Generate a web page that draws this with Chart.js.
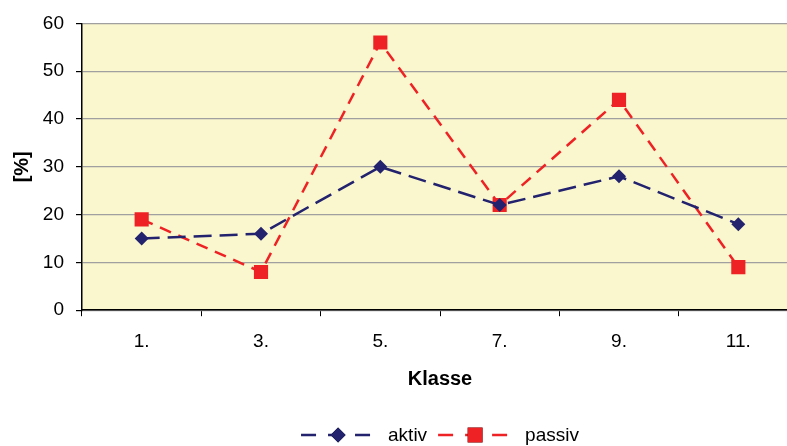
<!DOCTYPE html>
<html>
<head>
<meta charset="utf-8">
<script src="https://cdn.jsdelivr.net/npm/chart.js@4"></script>
<style>
    html, body { margin: 0; padding: 0; background: #ffffff; overflow: hidden; }
    #wrap { width: 787px; height: 446px; overflow: hidden; }
</style>
</head>
<body>
<div id="wrap"><canvas id="chart" width="808" height="446"></canvas></div>
<script>
// chart data
const categories = ['1.', '3.', '5.', '7.', '9.', '11.'];
const aktivValues = [15, 16, 30, 22, 28, 18];
const passivValues = [19, 8, 56, 22, 44, 9];
const yTicks = [0, 10, 20, 30, 40, 50, 60];

const FONT = '"Liberation Sans", Arial, sans-serif';
const NAVY = '#22226e';
const RED = '#ee2224';

// Fill the plot area with the pale yellow background
const plotBackground = {
    id: 'plotBackground',
    beforeDraw(chart) {
        const { ctx, chartArea } = chart;
        ctx.save();
        ctx.fillStyle = '#faf6ce';
        ctx.fillRect(chartArea.left, chartArea.top, chartArea.width, chartArea.height);
        ctx.restore();
    }
};

// Legend in the Excel style: dashed line with the marker in the middle
const lineLegend = {
    id: 'lineLegend',
    afterDraw(chart) {
        const { ctx, chartArea } = chart;
        const symbolWidth = 74;
        const textGap = 13;
        const itemGap = 11;
        const y = 435;
        ctx.save();
        ctx.font = '19px ' + FONT;
        ctx.textBaseline = 'middle';

        const items = chart.data.datasets.map(ds => ({
            ds,
            textWidth: ctx.measureText(ds.label).width
        }));
        const total = items.reduce((s, it) => s + symbolWidth + textGap + it.textWidth, 0)
            + itemGap * (items.length - 1);
        let x = (chartArea.left + chartArea.right) / 2 - total / 2;

        items.forEach(({ ds, textWidth }) => {
            ctx.strokeStyle = ds.borderColor;
            ctx.lineWidth = ds.borderWidth;
            ctx.setLineDash([15, 12]);
            ctx.beginPath();
            ctx.moveTo(x, y);
            ctx.lineTo(x + symbolWidth, y);
            ctx.stroke();
            ctx.setLineDash([]);
            Chart.helpers.drawPoint(ctx, {
                pointStyle: ds.pointStyle,
                radius: ds.pointRadius + 0.5,
                rotation: 0,
                borderWidth: 0
            }, x + symbolWidth / 2, y);
            ctx.fillStyle = ds.pointBackgroundColor;
            ctx.fill();

            ctx.fillStyle = '#000000';
            ctx.fillText(ds.label, x + symbolWidth + textGap, y + 1);
            x += symbolWidth + textGap + textWidth + itemGap;
        });
        ctx.restore();
    }
};

const ctx = document.getElementById('chart').getContext('2d');
new Chart(ctx, {
    type: 'line',
    data: {
        labels: categories,
        datasets: [
            {
                label: 'aktiv',
                data: aktivValues,
                borderColor: NAVY,
                borderWidth: 2.5,
                borderDash: [18, 8],
                pointStyle: 'rectRot',
                pointRadius: 7,
                pointBackgroundColor: NAVY,
                pointBorderColor: NAVY,
                pointBorderWidth: 0,
                tension: 0
            },
            {
                label: 'passiv',
                data: passivValues,
                borderColor: RED,
                borderWidth: 2.5,
                borderDash: [12, 8],
                pointStyle: 'rect',
                pointRadius: 10,
                pointBackgroundColor: RED,
                pointBorderColor: RED,
                pointBorderWidth: 0,
                tension: 0
            }
        ]
    },
    options: {
        responsive: false,
        animation: false,
        layout: {
            padding: { left: 10, right: 2, top: 11, bottom: 55 }
        },
        plugins: {
            legend: { display: false },
            tooltip: { enabled: false }
        },
        scales: {
            x: {
                offset: true,
                grid: {
                    offset: true,
                    drawOnChartArea: false,
                    drawTicks: true,
                    tickLength: 6,
                    tickColor: '#000000'
                },
                border: { color: '#000000', width: 1.5 },
                ticks: {
                    color: '#000000',
                    padding: 14,
                    maxRotation: 0,
                    font: { family: FONT, size: 19 }
                },
                title: {
                    display: true,
                    text: 'Klasse',
                    color: '#000000',
                    padding: { top: 0, bottom: 0 },
                    font: { family: FONT, size: 20, weight: 'bold' }
                }
            },
            y: {
                min: 0,
                max: 60,
                afterBuildTicks: (axis) => {
                    axis.ticks = yTicks.map(v => ({ value: v }));
                },
                afterFit: (axis) => {
                    axis.width = 72;
                },
                grid: {
                    color: '#a0a0a0',
                    lineWidth: 1.2,
                    tickLength: 6,
                    tickColor: '#000000'
                },
                border: { color: '#000000', width: 1.5 },
                ticks: {
                    color: '#000000',
                    padding: 12,
                    font: { family: FONT, size: 19 }
                },
                title: {
                    display: true,
                    text: '[%]',
                    color: '#000000',
                    padding: { top: 0, bottom: 9 },
                    font: { family: FONT, size: 20, weight: 'bold' }
                }
            }
        }
    },
    plugins: [plotBackground, lineLegend]
});
</script>
</body>
</html>
